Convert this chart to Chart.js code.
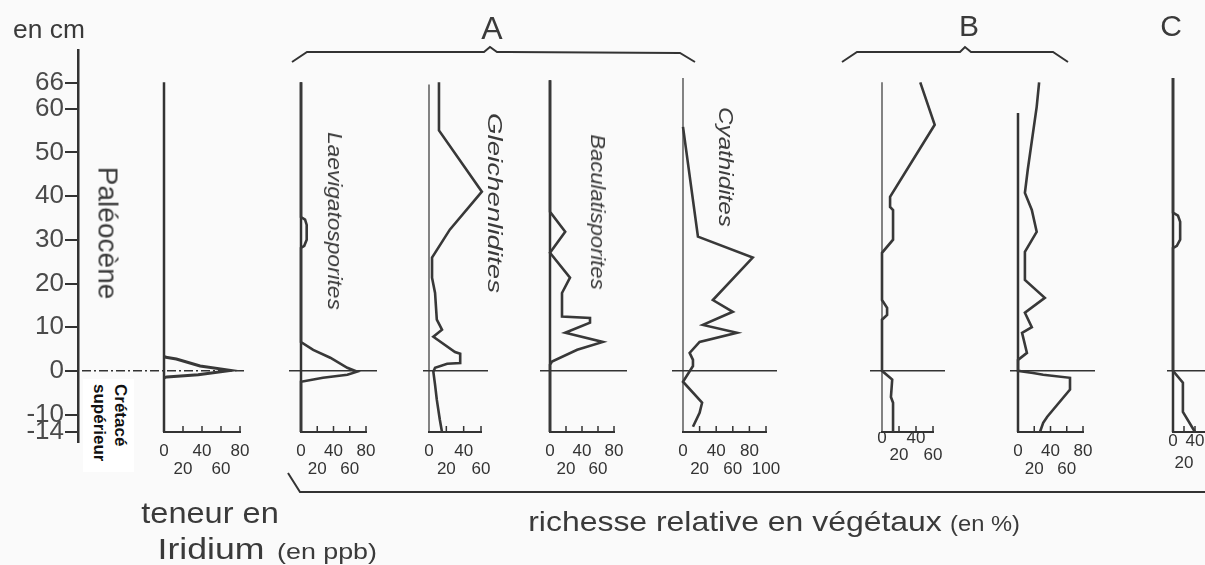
<!DOCTYPE html>
<html>
<head>
<meta charset="utf-8">
<script src="https://cdn.jsdelivr.net/npm/chart.js@4.4.0/dist/chart.umd.min.js"></script>
<style>
  body { margin: 0; background: #fafafa; overflow: hidden; }
  #page { position: relative; width: 1205px; height: 565px; overflow: hidden;
          font-family: "Liberation Sans", Arial, sans-serif; color: #3a3a3a; }
  canvas { position: absolute; left: 0; top: 0; }
  svg { position: absolute; left: 0; top: 0; }
  .txt { position: absolute; white-space: nowrap; line-height: 1; transform-origin: center; }
  #cretace { position: absolute; left: 62px; top: 400px; width: 88px; height: 48px;
             padding: 3px 0 0 5px; transform: rotate(90deg); transform-origin: center;
             background: #fff; font-weight: bold; font-size: 17px; line-height: 21px; color: #111; }
</style>
</head>
<body>
<div id="page">
  <svg width="1205" height="565">
    <polyline points="292,62 307,52 484,52 490,47 497,52 680,53 695,62" fill="none" stroke="#333" stroke-width="2"/>
    <polyline points="842,62 857,52 960,52 965,47 971,52 1053,52 1068,62" fill="none" stroke="#333" stroke-width="2"/>
    <polyline points="288,473 300,492 1205,492" fill="none" stroke="#333" stroke-width="2"/>
  </svg>
  <div id="cretace">Crétacé<br>supérieur</div>
</div>

<script>
/* graduations de la profondeur (cm) */
const DEPTH_TICKS = [66, 60, 50, 40, 30, 20, 10, 0, -10, -14];
const TICKS_60 = [0, 20, 40, 60];
const TICKS_80 = [0, 20, 40, 60, 80];
const TICKS_100 = [0, 20, 40, 60, 80, 100];

/* Iridium (ppb) */
const IR_VAL   = [0, 2, 13, 38, 70, 36, 3, 0];
const IR_DEPTH = [3.3, 3.1, 2.7, 1.1, 0.1, -0.9, -1.4, -1.6];

/* Laevigatosporites (%) */
const LV_VAL   = [0, 0, 5, 7, 7, 4, 0, 0, 15, 36, 57, 69, 57, 27, 0, 0];
const LV_DEPTH = [66, 35.2, 34.6, 33.4, 30, 28.6, 28.1, 6.6, 4.8, 3.0, 0.7, -0.2, -0.9, -1.6, -2.5, -14];

/* Gleichenlidites (%) */
const GL_VAL   = [11.5, 11.5, 61, 24, 3.5, 3.5, 7, 9, 15, 5, 30, 36, 36, 21, 7, 5, 7, 9, 12.5, 15];
const GL_DEPTH = [66, 55, 41, 32.3, 25.9, 21.3, 17.8, 11.7, 9.4, 7.8, 4.3, 3.9, 1.8, 1.6, 0.7, -0.2, -3.2, -6.6, -11.2, -14];

/* Baculatisporites (%) */
const BC_VAL   = [0, 0, 19, 0, 25, 15, 15, 50, 50, 19, 66, 34, 2.5, 0, 0];
const BC_DEPTH = [66.5, 36.4, 31.8, 27, 21.3, 17.8, 12.4, 12.1, 11, 8.7, 6.6, 4.8, 2.1, 1.4, -14];

/* Cyathidites (%) */
const CY_VAL   = [0, 18, 84, 36, 60, 24, 65, 20, 8, 12, 12, 0, 23, 20, 12];
const CY_DEPTH = [55.8, 30.7, 25.9, 16.2, 13.5, 10.5, 8.7, 6.6, 4.1, 2.5, 1.1, -2.5, -7.3, -9.6, -12.8];

/* groupe B (%) */
const B1_VAL   = [45, 62, 9.5, 9.5, 13, 13, 0, 0, 6, 6, 0, 0, 12, 10.5, 13, 13];
const B1_DEPTH = [66, 56.3, 39.8, 37.5, 36.8, 30, 27, 16.2, 14.4, 12.8, 11.7, 0, -2, -6, -7.3, -14];
const B2_VAL   = [26, 23, 12, 8.5, 17, 23, 8.5, 8.5, 33, 8.5, 17, 5, 11, 0, 0, 18.5, 31, 64, 64, 36, 31, 27];
const B2_DEPTH = [66, 60.4, 46, 40.7, 36.8, 31.8, 27.2, 20.8, 16.7, 13.3, 10, 8.7, 4.1, 2.5, 0, -0.5, -0.9, -1.6, -4.3, -10.5, -11.9, -14];

/* groupe C (%) */
const C_VAL   = [0, 0, 9, 13, 13, 7, 0, 0, 18, 18, 40];
const C_DEPTH = [67, 36.2, 35.5, 34.1, 30, 28.6, 28.1, 0, -2.7, -9.4, -14];

const INK = '#333';
const FONT = '"Liberation Sans", Arial, sans-serif';
const CW = 1260, CH = 480;

/* mise en page des colonnes */
const PANELS = [
  { val: IR_VAL, depth: IR_DEPTH, x0: 164, w: 76, max: 80, ticks: TICKS_80, top: 66,   zero: [-99, 83], dash: true, axisW: 2.5, lw: 3 },
  { val: LV_VAL, depth: LV_DEPTH, x0: 301, w: 65, max: 80, ticks: TICKS_80, top: 66,   zero: [-12, 76], axisW: 2.5 },
  { val: GL_VAL, depth: GL_DEPTH, x0: 429, w: 52, max: 60, ticks: TICKS_60, top: 65.5, zero: [-6, 59],  axisW: 1.2 },
  { val: BC_VAL, depth: BC_DEPTH, x0: 550, w: 64, max: 80, ticks: TICKS_80, top: 66.5, zero: [-10, 77], axisW: 2.5 },
  { val: CY_VAL, depth: CY_DEPTH, x0: 683, w: 83, max: 100, ticks: TICKS_100, top: 67, zero: [-11, 94], axisW: 1.2 },
  { val: B1_VAL, depth: B1_DEPTH, x0: 882, w: 51, max: 60, ticks: TICKS_60, top: 66,   zero: [-12, 63], axisW: 1.2, pad: -2, lh: 17 },
  { val: B2_VAL, depth: B2_DEPTH, x0: 1018, w: 65, max: 80, ticks: TICKS_80, top: 59,  zero: [-8, 77],  axisW: 2.5 },
  { val: C_VAL,  depth: C_DEPTH,  x0: 1173, w: 33, max: 60, ticks: TICKS_60, top: 67,  zero: [-6, 40],  axisW: 2.5, pad: -2, lh: 22, shown: 3 },
];

const page = document.getElementById('page');

function newCanvas(w, h) {
  const c = document.createElement('canvas');
  c.width = w; c.height = h;
  page.insertBefore(c, page.firstChild);
  return c.getContext('2d');
}

/* axe vertical, ligne du zero et petites graduations */
function decor(p, i) {
  return {
    id: 'decor' + i,
    beforeDatasetsDraw(chart) {
      const { ctx, chartArea, scales: { x, y } } = chart;
      const x0 = x.getPixelForValue(0);
      const yz = y.getPixelForValue(0);
      ctx.save();
      ctx.strokeStyle = INK;
      ctx.lineWidth = p.axisW;
      ctx.beginPath();
      ctx.moveTo(x0, y.getPixelForValue(p.top));
      ctx.lineTo(x0, chartArea.bottom);
      ctx.stroke();

      ctx.lineWidth = 1.6;
      if (p.dash) ctx.setLineDash([9, 3, 2, 3]);
      ctx.beginPath();
      ctx.moveTo(x0 + p.zero[0], yz);
      ctx.lineTo(x0 + p.zero[1], yz);
      ctx.stroke();
      ctx.setLineDash([]);

      ctx.lineWidth = 1.5;
      x.ticks.forEach(t => {
        if (t.value === 0) return;
        const px = x.getPixelForValue(t.value);
        ctx.beginPath();
        ctx.moveTo(px, chartArea.bottom);
        ctx.lineTo(px, chartArea.bottom - 6);
        ctx.stroke();
      });
      ctx.restore();
    }
  };
}

/* echelle des profondeurs */
function renderDepthAxis() {
  const ctx = newCanvas(100, CH);
  new Chart(ctx, {
    type: 'scatter',
    data: { datasets: [] },
    options: {
      responsive: false,
      animation: false,
      events: [],
      layout: { padding: { left: 0, right: 0, top: 50, bottom: 38 } },
      plugins: { legend: { display: false }, tooltip: { enabled: false } },
      scales: {
        x: { display: false, min: 0, max: 1 },
        y: {
          min: -16.25, max: 73.45,
          afterBuildTicks: s => { s.ticks = DEPTH_TICKS.map(v => ({ value: v })); },
          afterFit: s => { s.width = 78; },
          grid: { display: true, drawOnChartArea: false, drawTicks: true, tickLength: 13, color: INK, lineWidth: 2 },
          border: { display: true, color: INK, width: 2.5 },
          ticks: { autoSkip: false, padding: 1, color: '#4a4a4a', font: { family: FONT, size: 26 } }
        }
      }
    }
  });
}

function renderPanel(p, i) {
  const ctx = newCanvas(CW, CH);
  const lh = p.lh || 18;
  const shown = p.shown || p.ticks.length;
  new Chart(ctx, {
    type: 'scatter',
    data: {
      datasets: [{
        data: p.val.map((v, k) => ({ x: v, y: p.depth[k] })),
        showLine: true,
        borderColor: '#383838',
        borderWidth: p.lw || 2.6,
        pointRadius: 0,
        tension: 0,
        clip: false,
      }]
    },
    options: {
      responsive: false,
      animation: false,
      events: [],
      layout: { padding: { left: p.x0, right: CW - p.x0 - p.w, top: 78, bottom: 0 } },
      plugins: { legend: { display: false }, tooltip: { enabled: false } },
      scales: {
        x: {
          type: 'linear', min: 0, max: p.max,
          afterBuildTicks: s => { s.ticks = p.ticks.map(v => ({ value: v })); },
          afterFit: s => { s.height = 48; },
          grid: { display: false, drawTicks: false },
          border: { display: true, color: INK, width: 2 },
          ticks: {
            autoSkip: false, maxRotation: 0, minRotation: 0,
            padding: p.pad !== undefined ? p.pad : 10,
            color: '#333',
            font: { family: FONT, size: 17, lineHeight: lh / 17 },
            callback: (v, k) => {
              if (k >= shown) return '';
              return k % 2 === 0 ? [String(v), ''] : ['', String(v)];
            }
          }
        },
        y: { display: false, min: -14, max: 67 }
      }
    },
    plugins: [decor(p, i)]
  });
}

/* textes */
function addText(str, cx, cy, size, o = {}) {
  const el = document.createElement('div');
  el.className = 'txt';
  el.textContent = str;
  el.style.fontSize = size + 'px';
  el.style.left = cx + 'px';
  el.style.top = cy + 'px';
  if (o.italic) el.style.fontStyle = 'italic';
  if (o.color) el.style.color = o.color;
  page.appendChild(el);
  const k = o.w ? o.w / el.offsetWidth : 1;
  el.style.transform = `translate(-50%, -50%) rotate(${o.rot || 0}deg) scaleX(${k})`;
}

renderPanel(PANELS[7], 7);
for (let i = PANELS.length - 2; i >= 0; i--) renderPanel(PANELS[i], i);
renderDepthAxis();

addText('en cm', 49, 29, 26, { w: 72 });
addText('Paléocène', 107, 233, 27, { rot: 90, w: 133 });
addText('A', 492, 28, 32);
addText('B', 969, 26, 30);
addText('C', 1171, 26, 30);
addText('Laevigatosporites', 335, 221, 20, { rot: 90, italic: true, w: 178 });
addText('Gleichenlidites', 495, 203, 20, { rot: 90, italic: true, w: 180 });
addText('Baculatisporites', 598, 212, 20, { rot: 90, italic: true, w: 155 });
addText('Cyathidites', 726, 167, 20, { rot: 90, italic: true, w: 120 });
addText('teneur en', 210, 513, 29, { w: 138 });
addText('Iridium', 211, 549, 30, { w: 107 });
addText('(en ppb)', 327, 552, 22, { w: 100 });
addText('richesse relative en végétaux', 735, 522, 28, { w: 414 });
addText('(en %)', 985, 524, 22, { w: 70 });
</script>
</body>
</html>
